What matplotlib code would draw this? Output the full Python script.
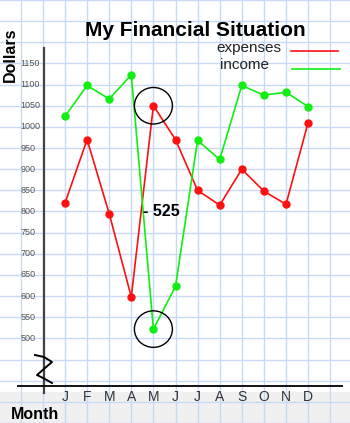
import numpy as np
import matplotlib.pyplot as plt
from matplotlib.patches import Ellipse

plt.rcParams['font.family'] = ['Liberation Sans', 'DejaVu Sans']

# data
months = ["J", "F", "M", "A", "M", "J", "J", "A", "S", "O", "N", "D"]
expenses = [820, 970, 795, 598, 1050, 970, 850, 815, 900, 848, 817, 1010]
income = [1025, 1098, 1066, 1123, 522, 623, 968, 923, 1098, 1075, 1082, 1048]
yticks = list(range(500, 1151, 50))

W, H = 350, 423
fig = plt.figure(figsize=(W / 100, H / 100), dpi=100)
ax = fig.add_axes([0, 0, 1, 1])

# pixel helpers (for decoration only)
def fx(px):
    return px / W

def fy(py):
    return 1 - py / H

# scales: month i sits at 65 + 22.1*i px, $1000 at 124 px, 22 px per $50
ax.set_xlim((0 - 65) / 22.1, (W - 65) / 22.1)
ax.set_ylim(1000 - (H - 124) * 50 / 22, 1000 + 124 * 50 / 22)
for s in ax.spines.values():
    s.set_visible(False)
ax.set_xticks(np.arange(-2, 13))
ax.set_yticks(np.arange(300, 1301, 50))
ax.tick_params(length=0, labelleft=False, labelbottom=False)
ax.set_axisbelow(True)
ax.grid(True, color="#c8d9f3", linewidth=1.0)
ax.axhspan(0, 1000 - 276 * 50 / 22, color="#f0f0f0", zorder=0)

x = np.arange(len(months))
ax.plot(x, expenses, color="#ff1010", linewidth=1.2, marker="o", markersize=5, zorder=3)
ax.plot(x, income, color="#11ee11", linewidth=1.2, marker="o", markersize=5, zorder=3)

# circles around May
for v in (expenses[4], income[4]):
    ax.add_patch(Ellipse((4, v), 2 * 19 / 22.1, 2 * 19 * 50 / 22, fill=False,
                         edgecolor="black", linewidth=1.0, zorder=4))
fig.text(fx(143), fy(211), "- 525", ha="left", va="center",
         fontsize=11.5, fontweight="bold", zorder=5)

# hand drawn axes
ax.plot([fx(44), fx(44)], [fy(48), fy(393)], transform=fig.transFigure,
        color="#444444", linewidth=1.6, zorder=2)
ax.plot([fx(18), fx(342)], [fy(386), fy(386)], transform=fig.transFigure,
        color="#111111", linewidth=1.4, zorder=2)
zx = [35, 44, 52, 45, 37, 45, 52]
zy = [355, 357, 362, 368, 375, 379, 383]
ax.plot([fx(p) for p in zx], [fy(p) for p in zy], transform=fig.transFigure,
        color="black", linewidth=1.4, zorder=2)

for t in yticks:
    ax.text(-2.0, t, str(t), ha="left", va="center", fontsize=6.5, color="#555555")
for i, m in enumerate(months):
    ax.text(i, 1000 - 281 * 50 / 22, m, ha="center", va="center", fontsize=10, color="#333333")

fig.text(fx(195), fy(30), "My Financial Situation", ha="center", va="center",
         fontsize=15, fontweight="bold")
fig.text(fx(10), fy(55), "Dollars", ha="center", va="center", rotation=90,
         fontsize=11.5, fontweight="bold")
fig.text(fx(35), fy(414), "Month", ha="center", va="center", fontsize=11.5, fontweight="bold")

# legend
fig.text(fx(249), fy(48), "expenses", ha="center", va="center", fontsize=11, color="#222222")
fig.text(fx(245), fy(65), "income", ha="center", va="center", fontsize=11, color="#222222")
ax.plot([fx(291), fx(338)], [fy(51), fy(51)], transform=fig.transFigure, color="#ff1010", linewidth=1.2)
ax.plot([fx(292), fx(340)], [fy(69), fy(69)], transform=fig.transFigure, color="#11ee11", linewidth=1.2)

fig.savefig("out.png", dpi=100)
